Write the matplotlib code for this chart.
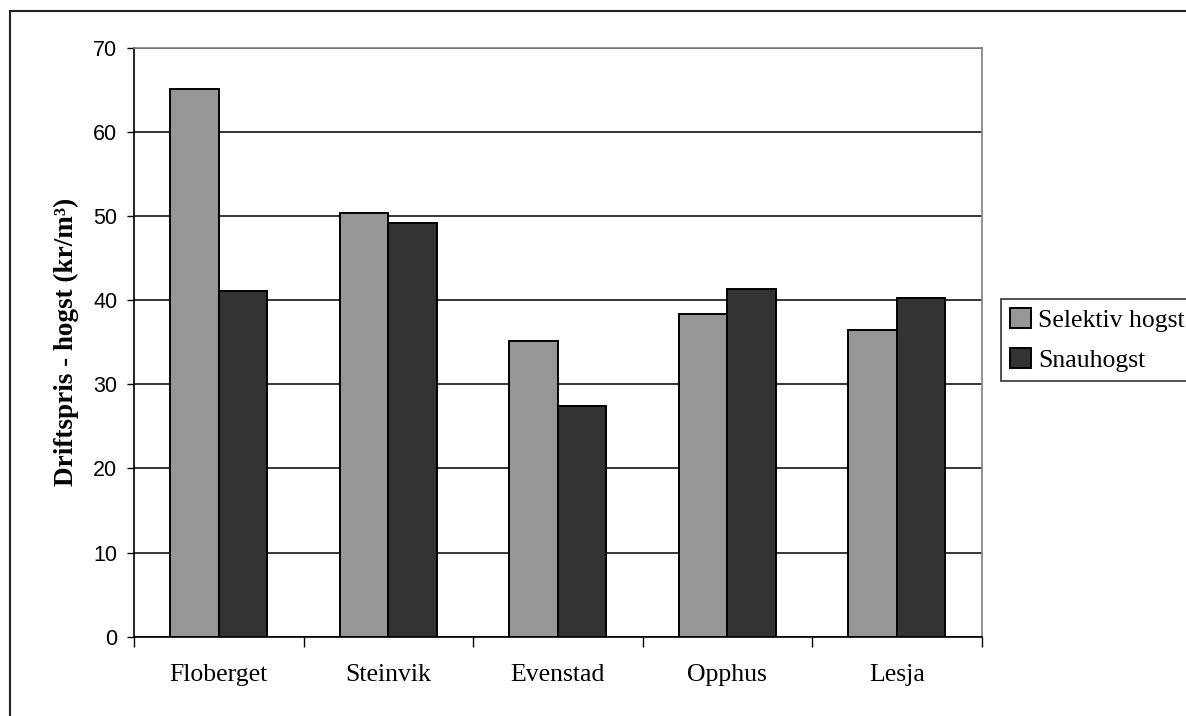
import numpy as np
import matplotlib
matplotlib.use('Agg')
import matplotlib.pyplot as plt
from matplotlib.patches import Rectangle

sites = ['Floberget', 'Steinvik', 'Evenstad', 'Opphus', 'Lesja']
selektiv = [65.1, 50.4, 35.2, 38.4, 36.5]
snau = [41.1, 49.2, 27.4, 41.3, 40.3]
yticks = [0, 10, 20, 30, 40, 50, 60, 70]

W, H = 1186, 716
fig = plt.figure(figsize=(W / 100, H / 100), dpi=100)
ax = fig.add_axes([134 / W, 1 - 636.6 / H, (981.5 - 134) / W, (636.6 - 48) / H])

x = np.arange(len(sites))
bw = 0.285
ax.bar(x - bw / 2, selektiv, bw, color='#969696', edgecolor='black', linewidth=1.4,
       label='Selektiv hogst', zorder=3)
ax.bar(x + bw / 2, snau, bw, color='#333333', edgecolor='black', linewidth=1.4,
       label='Snauhogst', zorder=3)

ax.set_xlim(-0.5, len(sites) - 0.5)
ax.set_ylim(0, 70)
ax.set_yticks(yticks)
ax.set_yticklabels([str(v) for v in yticks], fontfamily='Liberation Sans', fontsize=15.5)
ax.grid(axis='y', color='black', linewidth=1.1, zorder=0)

# category labels centred, tick marks at the category boundaries
ax.set_xticks(x)
ax.set_xticklabels(sites, fontfamily='Liberation Serif', fontsize=18.5)
ax.tick_params(axis='x', which='major', length=0, pad=20)
ax.set_xticks(np.arange(len(sites) + 1) - 0.5, minor=True)
ax.tick_params(axis='x', which='minor', length=7, width=1, direction='out')
ax.tick_params(axis='y', length=5, width=1, direction='out', pad=7)

for s in ['left', 'bottom']:
    ax.spines[s].set_color('black')
    ax.spines[s].set_linewidth(1.2)
for s in ['top', 'right']:
    ax.spines[s].set_color('#808080')
    ax.spines[s].set_linewidth(1.2)

ax.set_ylabel('Driftspris - hogst (kr/m³)', fontfamily='Liberation Serif',
              fontweight='bold', fontsize=19.5, labelpad=10)

leg = fig.legend(loc='upper left', bbox_to_anchor=(1001 / W, 1 - 299 / H),
                 prop={'family': 'Liberation Serif', 'size': 18.5},
                 fancybox=False, frameon=True, edgecolor='black',
                 handlelength=0.8, handleheight=0.8, handletextpad=0.3,
                 labelspacing=0.65, borderpad=0.35, borderaxespad=0)
leg.get_frame().set_linewidth(1.2)

# outer chart border
fig.patches.append(Rectangle((10 / W, -0.05), 1.2, 1 - 11 / H + 0.05,
                             transform=fig.transFigure, fill=False,
                             edgecolor='#222222', linewidth=1.5))

fig.savefig('out.png', dpi=100)
